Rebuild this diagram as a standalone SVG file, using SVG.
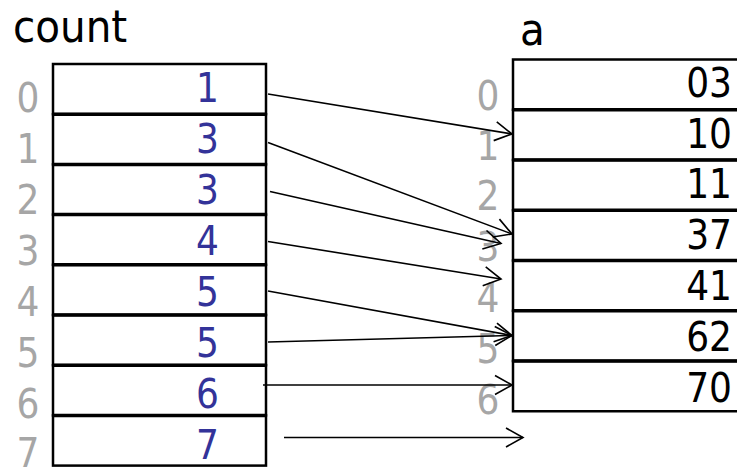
<svg xmlns="http://www.w3.org/2000/svg" width="737" height="469" viewBox="0 0 737 469">
<style>
text{font-family:"DejaVu Sans Condensed","DejaVu Sans","Liberation Sans",sans-serif;}
.title{font-size:45px;fill:#000;}
.idx{font-size:40px;fill:#a6a6a6;text-anchor:middle;}
.cnt{font-size:40px;fill:#333399;text-anchor:end;}
.val{font-size:40px;fill:#000;text-anchor:end;}
.cell{fill:#fff;stroke:#000;stroke-width:2.5;}
.sep{stroke:#000;stroke-width:3.5;}
.arrow{stroke:#000;stroke-width:1.6;fill:none;marker-end:url(#open);}
</style>
<defs>
<marker id="open" markerUnits="userSpaceOnUse" viewBox="0 0 20 22" refX="18" refY="11" markerWidth="20" markerHeight="22" orient="auto" overflow="visible">
<path d="M1,1.5 L18,11 L1,20.5" fill="none" stroke="#000" stroke-width="1.6"/>
</marker>
</defs>
<rect width="737" height="469" fill="#fff"/>
<text class="title" x="13" y="42">count</text>
<text class="title" x="520" y="45">a</text>

<g id="count">
<g id="count0"><rect class="cell" x="53" y="64" width="213" height="50.2"/><text class="idx" x="28" y="112">0</text><text class="cnt" x="219" y="102">1</text></g>
<g id="count1"><rect class="cell" x="53" y="114.2" width="213" height="50.2"/><line class="sep" x1="53" y1="114.2" x2="266" y2="114.2"/><text class="idx" x="28" y="163">1</text><text class="cnt" x="219" y="153">3</text></g>
<g id="count2"><rect class="cell" x="53" y="164.4" width="213" height="50.2"/><line class="sep" x1="53" y1="164.4" x2="266" y2="164.4"/><text class="idx" x="28" y="214">2</text><text class="cnt" x="219" y="204">3</text></g>
<g id="count3"><rect class="cell" x="53" y="214.6" width="213" height="50.2"/><line class="sep" x1="53" y1="214.6" x2="266" y2="214.6"/><text class="idx" x="28" y="265">3</text><text class="cnt" x="219" y="255">4</text></g>
<g id="count4"><rect class="cell" x="53" y="264.8" width="213" height="50.2"/><line class="sep" x1="53" y1="264.8" x2="266" y2="264.8"/><text class="idx" x="28" y="316">4</text><text class="cnt" x="219" y="306">5</text></g>
<g id="count5"><rect class="cell" x="53" y="315" width="213" height="50.2"/><line class="sep" x1="53" y1="315" x2="266" y2="315"/><text class="idx" x="28" y="367">5</text><text class="cnt" x="219" y="357">5</text></g>
<g id="count6"><rect class="cell" x="53" y="365.2" width="213" height="50.2"/><line class="sep" x1="53" y1="365.2" x2="266" y2="365.2"/><text class="idx" x="28" y="418">6</text><text class="cnt" x="219" y="408">6</text></g>
<g id="count7"><rect class="cell" x="53" y="415.4" width="213" height="50.2"/><line class="sep" x1="53" y1="415.4" x2="266" y2="415.4"/><text class="idx" x="28" y="467">7</text><text class="cnt" x="219" y="459">7</text></g>
</g>

<g id="a">
<g id="a0"><rect class="cell" x="513" y="59.5" width="240" height="50.25"/><text class="idx" x="488" y="110">0</text><text class="val" x="732" y="97">03</text></g>
<g id="a1"><rect class="cell" x="513" y="109.75" width="240" height="50.25"/><line class="sep" x1="513" y1="109.75" x2="737" y2="109.75"/><text class="idx" x="488" y="160">1</text><text class="val" x="732" y="148">10</text></g>
<g id="a2"><rect class="cell" x="513" y="160" width="240" height="50.25"/><line class="sep" x1="513" y1="160" x2="737" y2="160"/><text class="idx" x="488" y="210">2</text><text class="val" x="732" y="198">11</text></g>
<g id="a3"><rect class="cell" x="513" y="210.25" width="240" height="50.25"/><line class="sep" x1="513" y1="210.25" x2="737" y2="210.25"/><text class="idx" x="488" y="261">3</text><text class="val" x="732" y="249">37</text></g>
<g id="a4"><rect class="cell" x="513" y="260.5" width="240" height="50.25"/><line class="sep" x1="513" y1="260.5" x2="737" y2="260.5"/><text class="idx" x="488" y="312">4</text><text class="val" x="732" y="300">41</text></g>
<g id="a5"><rect class="cell" x="513" y="310.75" width="240" height="50.25"/><line class="sep" x1="513" y1="310.75" x2="737" y2="310.75"/><text class="idx" x="488" y="363">5</text><text class="val" x="732" y="351">62</text></g>
<g id="a6"><rect class="cell" x="513" y="361" width="240" height="50.25"/><line class="sep" x1="513" y1="361" x2="737" y2="361"/><text class="idx" x="488" y="414">6</text><text class="val" x="732" y="402">70</text></g>
</g>

<g id="connectors">
<line class="arrow" x1="268" y1="94" x2="512" y2="134"/>
<line class="arrow" x1="268" y1="142.5" x2="512" y2="234"/>
<line class="arrow" x1="270" y1="191.5" x2="501" y2="243.5"/>
<line class="arrow" x1="268" y1="241.5" x2="501" y2="279"/>
<line class="arrow" x1="268" y1="291" x2="512" y2="335.5"/>
<line class="arrow" x1="268" y1="342" x2="512" y2="335.5"/>
<line class="arrow" x1="263" y1="385" x2="512" y2="385"/>
<line class="arrow" x1="284" y1="437.5" x2="523" y2="437.5"/>
</g>
</svg>
